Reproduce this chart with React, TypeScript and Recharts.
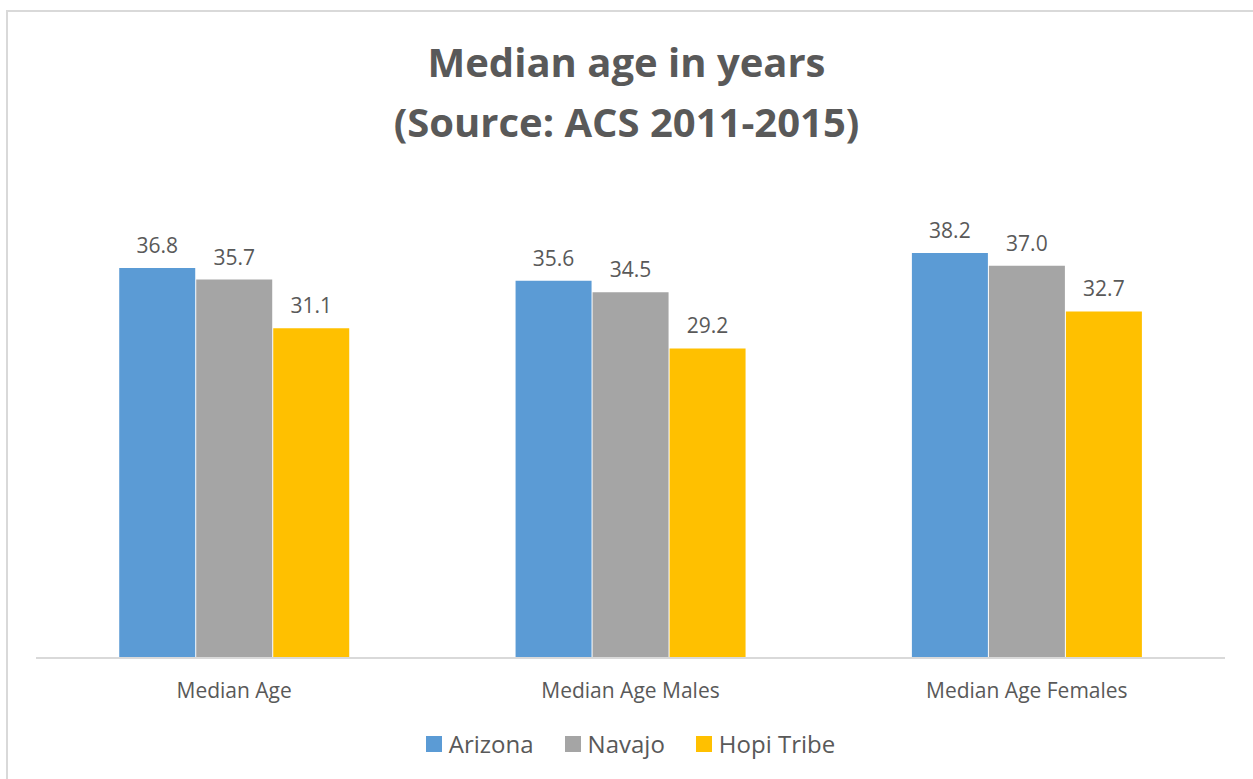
import React from "react";
import { BarChart, Bar, XAxis, YAxis, Legend, LabelList } from "recharts";

const categories = ["Median Age", "Median Age Males", "Median Age Females"];
const arizona = [36.8, 35.6, 38.2];
const navajo = [35.7, 34.5, 37.0];
const hopi = [31.1, 29.2, 32.7];

const seriesNames = ["Arizona", "Navajo", "Hopi Tribe"];
const seriesColors = ["#5B9BD5", "#A5A5A5", "#FFC000"];

const FONT = "'Open Sans', 'Noto Sans', sans-serif";
const TEXT = "#595959";

const data = categories.map((name, i) => ({
  name,
  Arizona: arizona[i],
  Navajo: navajo[i],
  "Hopi Tribe": hopi[i],
}));

const fmt = (v: any) => Number(v).toFixed(1);

// legend in fixed series order (recharts would sort it otherwise)
const renderLegend = () => (
  <div style={{ display: "flex", justifyContent: "center", alignItems: "center", height: 30 }}>
    {seriesNames.map((n, i) => (
      <div key={n} style={{ display: "flex", alignItems: "center", marginLeft: i ? 31 : 0 }}>
        <div style={{ width: 16, height: 16, background: seriesColors[i], marginRight: 7 }} />
        <span style={{ fontSize: 24, color: TEXT, fontFamily: FONT, lineHeight: "30px" }}>{n}</span>
      </div>
    ))}
  </div>
);

const App: React.FC = () => {
  return (
    <div
      style={{
        position: "absolute",
        left: 0,
        top: 0,
        width: 1253,
        height: 779,
        overflow: "hidden",
        background: "#fff",
        fontFamily: FONT,
      }}
    >
      <div
        style={{
          position: "absolute",
          left: 6,
          top: 10,
          width: 1300,
          height: 800,
          border: "2px solid #d9d9d9",
        }}
      />
      <div
        style={{
          position: "absolute",
          left: 0,
          width: 1253,
          top: 32,
          textAlign: "center",
          color: TEXT,
          fontWeight: 700,
          fontSize: 40,
          lineHeight: "60px",
        }}
      >
        Median age in years
        <br />
        (Source: ACS 2011-2015)
      </div>
      <div style={{ position: "absolute", left: 0, top: 0 }}>
        <BarChart
          width={1253}
          height={779}
          data={data}
          margin={{ top: 181, right: 28, left: 36, bottom: 61 }}
          barGap={1}
          barCategoryGap="21%"
        >
          <XAxis
            dataKey="name"
            height={30}
            axisLine={{ stroke: "#d9d9d9", strokeWidth: 2 }}
            tickLine={false}
            tick={{ fontSize: 21, fill: TEXT, fontFamily: FONT }}
            tickMargin={19}
          />
          <YAxis hide domain={[0, 45]} />
          <Legend
            verticalAlign="bottom"
            content={renderLegend}
            wrapperStyle={{ top: 729, bottom: "auto", height: 30 }}
          />
          <Bar dataKey="Arizona" fill={seriesColors[0]} isAnimationActive={false}>
            <LabelList dataKey="Arizona" position="top" offset={15} formatter={fmt} style={{ fontSize: 21, fill: TEXT, fontFamily: FONT }} />
          </Bar>
          <Bar dataKey="Navajo" fill={seriesColors[1]} isAnimationActive={false}>
            <LabelList dataKey="Navajo" position="top" offset={15} formatter={fmt} style={{ fontSize: 21, fill: TEXT, fontFamily: FONT }} />
          </Bar>
          <Bar dataKey="Hopi Tribe" fill={seriesColors[2]} isAnimationActive={false}>
            <LabelList dataKey="Hopi Tribe" position="top" offset={15} formatter={fmt} style={{ fontSize: 21, fill: TEXT, fontFamily: FONT }} />
          </Bar>
        </BarChart>
      </div>
    </div>
  );
};

export default App;
